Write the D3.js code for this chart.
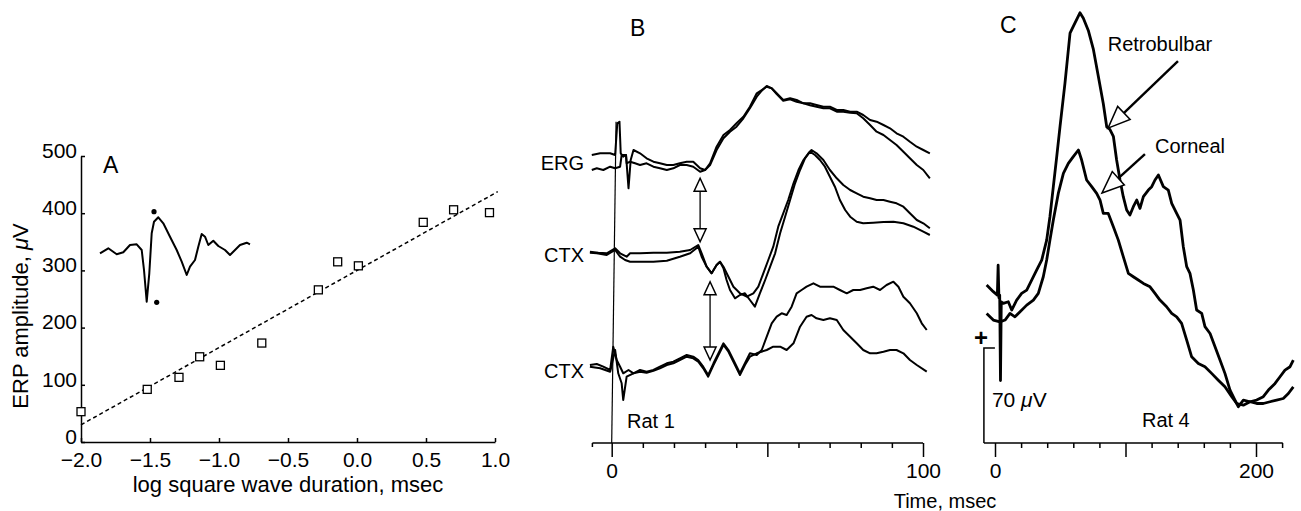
<!DOCTYPE html>
<html>
<head>
<meta charset="utf-8">
<script src="https://cdn.jsdelivr.net/npm/d3@7"></script>
<style>
body { margin: 0; background: #fff; }
svg { display: block; font-family: "Liberation Sans", Arial, Helvetica, sans-serif; }
</style>
</head>
<body>
<div id="chart"></div>
<script>
// ---------- panel A : ERP amplitude vs log square wave duration
var durations  = [-2.0, -1.52, -1.29, -1.14, -0.99, -0.69, -0.28, -0.14, 0.01, 0.48, 0.70, 0.96];
var amplitudes = [53, 92, 113, 149, 134, 173, 266, 315, 308, 384, 406, 401];
var fitIntercept = 300, fitSlope = 135;
var fitX = [-2.0, 1.02];
var xTicksA = [-2.0, -1.5, -1.0, -0.5, 0.0, 0.5, 1.0];
var yTicksA = [0, 100, 200, 300, 400, 500];

// inset ERP waveform (arbitrary time / amplitude units)
var insetWave = [[0,-1.3],[8.3,3.7],[16.7,-2.3],[23.3,-0.3],[30,7],[36.7,7.7],[41.7,2],[44,-18],[46.7,-49.7],
  [49.3,-21.3],[51.7,18.7],[54,30.3],[58.3,34.7],[63.3,28.7],[70,15.3],[76.7,2],[81.7,-9.7],[86.7,-23],
  [90,-14.7],[95,-8],[98.3,5.3],[101.7,18],[105,15.3],[108.3,7],[113.3,11.3],[118.3,6],[125,2],[130,-3],
  [135,2],[140,7],[146.7,9.3],[150,7.7]];
var insetDots = [[54, 40.3], [56.7, -50.3]];

// ---------- panel B : Rat 1 traces, time in msec, amplitude offset per row
var ergA = [[-6.4,10],[-3.7,11.7],[-0.5,11.7],[1.1,10],[1.8,41.7],[2.5,43.3],[2.9,11.7],[3.7,8.3],[4.6,10],
  [5.4,-23.3],[6.1,5],[7.0,15],[9.1,11.7],[11.2,6.7],[13.4,3.3],[15.5,1.7],[17.7,0],[19.8,0],[21.9,1.7],
  [24.1,3.3],[26.2,3.3],[28.4,-3.3],[30.0,-5],[31.6,1.7],[33.7,18.3],[35.9,30],[38.0,35],[40.1,41.7],
  [42.3,48.3],[44.4,58.3],[46.6,71.7],[48.2,75],[49.8,78.3],[51.4,76.7],[53.0,71.7],[55.1,65],[57.3,66.7],
  [59.4,65],[61.6,61.7],[63.7,61.7],[65.8,60],[68.0,58.3],[70.1,58.3],[72.3,55],[74.4,55],[76.6,53.3],
  [78.7,53.3],[80.8,50],[83.0,45],[85.1,43.3],[87.3,40],[89.4,36.7],[91.5,31.7],[93.7,28.3],[95.8,23.3],
  [98.0,18.3],[100.1,15],[102.2,11.7]];
var ergB = [[-6.4,-5],[-4.8,-3.3],[-2.7,-5],[-0.5,-1.7],[1.1,-3.3],[2.7,-1.7],[3.2,10],[4.6,10],[4.8,1.7],
  [5.9,3.3],[7.5,1.7],[9.1,0],[11.2,1.7],[13.4,-1.7],[15.5,-3.3],[17.7,-5],[19.8,-3.3],[21.9,0],[24.1,0],
  [26.2,-1.7],[28.4,-6.7],[30.0,-5],[31.6,0],[33.7,15],[35.9,26.7],[38.0,33.3],[40.1,38.3],[42.3,46.7],
  [44.4,56.7],[46.6,68.3],[48.2,74.3],[49.8,79],[51.4,76.7],[53.0,71],[55.1,64.3],[57.3,65.7],[59.4,63.3],
  [61.6,61.7],[63.7,59.7],[65.8,58.3],[68.0,56.7],[70.1,56.7],[72.3,53.3],[74.4,53.3],[76.6,52.3],
  [78.7,51.7],[80.8,46.7],[83.0,40],[85.1,33.3],[87.3,30],[89.4,25],[91.5,20],[93.7,13.3],[95.8,6.7],
  [98.0,0],[100.1,-5],[102.2,-13.3]];
var ctx1A = [[-7.0,-86.7],[-4.3,-87.7],[-1.6,-88.3],[1.1,-83.3],[2.7,-88.3],[4.8,-91.7],[5.9,-88.3],
  [9.1,-88.3],[13.4,-87.7],[17.7,-87.7],[21.9,-86.7],[25.2,-85],[27.8,-80],[28.9,-88.3],[30.5,-101.7],
  [32.1,-108.3],[33.7,-100],[34.8,-96.7],[35.9,-101.7],[37.5,-111.7],[39.1,-121.7],[41.2,-128.3],
  [43.4,-131.7],[45.5,-128.3],[47.1,-121.7],[48.7,-108.3],[50.3,-95],[51.9,-81.7],[53.5,-61.7],
  [55.1,-48.3],[56.7,-35],[58.4,-18.3],[60.0,-5],[61.6,5],[63.2,11.7],[64.2,15],[65.8,11.7],[68.0,5],
  [70.1,-5],[72.3,-13.3],[74.4,-20],[76.6,-25],[78.7,-28.3],[80.8,-31.7],[83.0,-33.3],[85.1,-35],
  [87.3,-35],[89.4,-36.7],[91.5,-38.3],[93.7,-41.7],[95.8,-48.3],[98.0,-55],[100.1,-58.3],[102.2,-63.3]];
var ctx1B = [[-7.0,-87.7],[-4.8,-88.3],[-1.6,-90],[1.1,-85],[2.7,-91.7],[4.3,-95],[5.9,-96.7],[9.1,-96.7],
  [13.4,-96.7],[17.7,-95.7],[21.9,-91.7],[25.2,-88.3],[27.8,-81.7],[28.9,-91.7],[30.5,-101.7],[32.1,-108.3],
  [33.7,-100],[34.8,-96.7],[35.9,-103.3],[36.9,-115],[38.0,-125],[39.6,-133.3],[41.2,-130],[42.8,-128.3],
  [44.4,-135],[46.0,-141.7],[47.6,-128.3],[49.3,-115],[50.9,-101.7],[52.5,-88.3],[54.1,-68.3],[55.7,-51.7],
  [57.3,-35],[58.9,-18.3],[60.5,-5],[62.1,6.7],[63.7,13.3],[65.3,10],[66.9,5],[68.5,-1.7],[70.1,-11.7],
  [71.7,-21.7],[73.3,-35],[75.0,-45],[76.6,-51.7],[78.7,-56.7],[80.8,-58.3],[84.0,-57.7],[87.3,-57],
  [90.5,-56.7],[93.7,-58.3],[96.9,-61.7],[100.1,-66.7],[102.2,-70]];
var ctx2A = [[-7.0,-200],[-4.8,-199],[-2.7,-201.7],[-0.5,-205],[0.5,-181.7],[1.6,-195],[2.7,-201.7],
  [3.7,-208.3],[5.4,-205],[7.0,-208.3],[9.1,-205],[11.2,-206.7],[13.4,-205],[15.5,-201.7],[17.7,-198.3],
  [19.8,-196.7],[21.9,-193.3],[24.1,-190],[26.2,-191.7],[27.8,-195],[29.4,-201.7],[31.0,-210],[32.7,-198.3],
  [34.3,-188.3],[35.9,-178.3],[37.5,-185],[39.1,-195],[41.2,-208.3],[42.8,-198.3],[44.4,-188.3],[46.6,-190],
  [48.2,-185],[49.8,-171.7],[51.4,-158.3],[53.0,-151.7],[54.6,-148.3],[56.2,-150],[57.8,-141.7],
  [59.4,-128.3],[61.0,-125],[62.6,-121.7],[64.8,-118.3],[66.9,-121.7],[69.1,-121.7],[71.2,-121.7],
  [73.3,-125],[75.5,-128.3],[77.6,-125],[79.8,-125],[81.9,-123.3],[84.0,-121.7],[86.2,-125],[88.3,-120],
  [90.5,-116.7],[92.1,-121.7],[93.7,-131.7],[95.8,-138.3],[98.0,-148.3],[99.6,-158.3],[101.2,-165]];
var ctx2B = [[-7.0,-201.7],[-3.7,-203.3],[-0.5,-206.7],[1.1,-185],[2.1,-208.3],[3.2,-218.3],[3.7,-235],
  [4.8,-211.7],[7.0,-208.3],[9.1,-206.7],[11.2,-207.7],[13.4,-205.7],[15.5,-203.3],[17.7,-200],
  [19.8,-198.3],[21.9,-195],[24.1,-191.7],[26.2,-193.3],[27.8,-196.7],[29.4,-203.3],[31.0,-211.7],
  [32.7,-200],[34.3,-190],[35.9,-180],[37.5,-186.7],[39.1,-196.7],[41.2,-210],[42.8,-200],[44.4,-191.7],
  [46.6,-188.3],[49.8,-185],[51.9,-181.7],[54.1,-181.7],[56.2,-185],[58.4,-178.3],[60.5,-161.7],
  [62.6,-151.7],[64.2,-150],[65.8,-153.3],[68.0,-155],[70.1,-153.3],[72.3,-155],[74.4,-165],[76.6,-171.7],
  [78.7,-178.3],[80.8,-185],[83.0,-188.3],[85.1,-188.3],[87.3,-186.7],[89.4,-185],[91.5,-185],[93.7,-188.3],
  [95.8,-195],[98.0,-200],[101.2,-206.7]];
var rowLabelsB = ["ERG", "CTX", "CTX"];
var rowLevelsB = [2, -90, -206];
var arrowsB = [[28.4, -13.3, -76.7], [31.6, -116.7, -195]];   // [time, top tip, bottom tip]
var majorTicksB = [0, 50, 100];
var minorTicksB = [10, 20, 30, 40, 60, 70, 80, 90];
var labelTicksB = [0, 100];

// ---------- panel C : Rat 4, retrobulbar vs corneal, time in msec, amplitude in uV
var retro = [[-6.4,7.4],[-1.3,2.5],[1.8,0],[2.4,22],[3.0,-2],[3.6,0],[4.2,-63],[4.8,-5],[6.4,-6.1],
  [10.2,-4.9],[12.8,-11],[16.6,-3.7],[20.4,1.2],[24.3,3.7],[28.1,11],[31.9,18.4],[35.8,25.8],[39.6,40.5],
  [42.1,57.7],[44.7,79.9],[47.3,102],[49.8,124],[53.6,156],[57.5,193],[60.0,198],[65.1,208],[67.7,204],
  [71.5,195],[75.4,181],[79.2,161],[83.0,141],[85.6,124],[88.1,122],[90.7,117],[93.2,99.5],[95.8,84.8],
  [98.3,72.5],[100.9,62.7],[103.4,59],[106.0,65.1],[108.6,70],[111.1,63.9],[113.7,72.5],[117.5,77.4],
  [120.1,79.9],[122.6,84.8],[125.2,88.5],[129.0,79.9],[132.8,77.4],[135.4,67.6],[139.2,60.2],[141.8,55.3],
  [144.3,35.6],[146.9,20.9],[149.4,16],[152.0,3.7],[154.5,-11],[158.4,-13.5],[160.9,-23.3],[164.8,-28.3],
  [168.6,-38.1],[172.4,-47.9],[176.2,-57.7],[180.1,-70],[183.9,-77.4],[186.5,-82.3],[190.3,-77.4],
  [195.4,-78.6],[200.5,-77.4],[205.6,-74.9],[209.5,-70],[214.6,-65.1],[218.4,-60.2],[222.2,-55.3],
  [226.1,-52.8],[228.6,-47.9]];
var corneal = [[-6.4,-13.5],[-1.3,-18.4],[3.8,-19.7],[7.7,-18.4],[11.5,-13.5],[15.3,-16],[19.2,-12.3],
  [24.3,-7.4],[29.4,-3.7],[33.2,1.2],[37.0,13.5],[39.6,25.8],[42.1,40.5],[44.7,55.3],[48.5,74.9],
  [52.4,89.7],[56.2,97],[60.0,102],[63.9,106.9],[66.4,99.5],[70.2,84.8],[74.1,79.9],[77.9,74.9],[80.5,70],
  [83.0,60.2],[86.8,60.2],[90.7,50.4],[94.5,40.5],[98.3,28.3],[102.2,16],[106.0,13.5],[109.8,11.1],
  [113.7,8.6],[118.8,6.1],[122.6,1.2],[126.4,-3.7],[131.5,-8.6],[135.4,-13.5],[139.2,-16],[143.0,-20.9],
  [146.9,-33.2],[150.7,-45.5],[155.8,-50.4],[160.9,-52.8],[166.0,-57.7],[171.1,-62.7],[176.2,-67.6],
  [181.4,-74.9],[185.2,-79.9],[190.3,-81.1],[195.4,-78.6],[200.5,-79.9],[205.6,-79.9],[210.7,-78.6],
  [215.8,-77.4],[220.9,-76.2],[224.8,-72.5],[228.6,-67.6]];
var arrowsC = [[140.2, 172.4, 86.6, 123], [114.9, 103.9, 82.0, 75.2]];   // [tail t, tail uV, tip t, tip uV]
var arrowLabelsC = ["Retrobulbar", "Corneal"];
var arrowLabelPosC = [[126.4, 179.8], [149.4, 104.6]];
var scaleBarUV = 70;
var majorTicksC = [0, 100, 200];
var minorTicksC = [20, 40, 60, 80, 120, 140, 160, 180, 220];
var labelTicksC = [0, 200];

// ---------- drawing
var W = 1301, H = 511;
var svg = d3.select("#chart").append("svg").attr("width", W).attr("height", H);
svg.append("rect").attr("width", W).attr("height", H).attr("fill", "#fff");

function styleAxis(g, fs) {
  g.attr("font-size", fs).attr("font-family", null);
  g.selectAll("path, line").attr("stroke", "#000").attr("stroke-width", 1.5);
  g.selectAll("text").attr("fill", "#000");
}

function openHead(g, tipX, tipY, fromX, fromY, len, wid) {
  var ang = Math.atan2(tipY - fromY, tipX - fromX) * 180 / Math.PI;
  g.append("path")
    .attr("d", "M0,0 L" + (-len) + "," + (-wid / 2) + " L" + (-len) + "," + (wid / 2) + " Z")
    .attr("transform", "translate(" + tipX + "," + tipY + ") rotate(" + ang + ")")
    .attr("fill", "#fff").attr("stroke", "#000").attr("stroke-width", 1.5)
    .attr("stroke-linejoin", "miter");
}

// ===== A
var xA = d3.scaleLinear().domain([-2, 1]).range([81, 495]);
var yA = d3.scaleLinear().domain([0, 500]).range([442, 156]);
var gA = svg.append("g");

gA.append("g").attr("transform", "translate(0,442)")
  .call(d3.axisBottom(xA).tickValues(xTicksA).tickSize(-4).tickSizeOuter(0).tickPadding(10)
    .tickFormat(d3.format(".1f")))
  .call(styleAxis, 21);
gA.append("g").attr("transform", "translate(81,0)")
  .call(d3.axisLeft(yA).tickValues(yTicksA).tickSize(-4).tickSizeOuter(0).tickPadding(4))
  .call(styleAxis, 21)
  .selectAll("text").attr("dy", "0.06em");

gA.append("line")
  .attr("x1", xA(fitX[0])).attr("y1", yA(fitIntercept + fitSlope * fitX[0]))
  .attr("x2", xA(fitX[1])).attr("y2", yA(fitIntercept + fitSlope * fitX[1]))
  .attr("stroke", "#000").attr("stroke-width", 1.5).attr("stroke-dasharray", "4,3");

gA.selectAll(".sq").data(durations).enter().append("rect")
  .attr("class", "sq")
  .attr("x", function(d) { return xA(d) - 4; })
  .attr("y", function(d, i) { return yA(amplitudes[i]) - 4; })
  .attr("width", 8).attr("height", 8)
  .attr("fill", "#fff").attr("stroke", "#000").attr("stroke-width", 1.3);

var xIn = d3.scaleLinear().domain([0, 150]).range([100, 250]);
var yIn = d3.scaleLinear().domain([-60, 60]).range([312, 192]);
gA.append("path").datum(insetWave)
  .attr("d", d3.line().x(function(d) { return xIn(d[0]); }).y(function(d) { return yIn(d[1]); }))
  .attr("fill", "none").attr("stroke", "#000").attr("stroke-width", 2).attr("stroke-linejoin", "round");
gA.selectAll(".dot").data(insetDots).enter().append("circle")
  .attr("cx", function(d) { return xIn(d[0]); }).attr("cy", function(d) { return yIn(d[1]); })
  .attr("r", 2.6).attr("fill", "#000");

gA.append("text").attr("x", 103).attr("y", 173).attr("font-size", 23).text("A");
gA.append("text").attr("x", 288).attr("y", 492).attr("font-size", 22).attr("text-anchor", "middle")
  .text("log square wave duration, msec");
var yl = gA.append("text").attr("transform", "translate(28,316) rotate(-90)")
  .attr("font-size", 22).attr("text-anchor", "middle");
yl.append("tspan").text("ERP amplitude, ");
yl.append("tspan").attr("font-style", "italic").text("\u03bc");
yl.append("tspan").text("V");

// ===== B
var xB = d3.scaleLinear().domain([0, 100]).range([611.7, 923]);
var yB = d3.scaleLinear().domain([-278, 60]).range([443, 105]);
var gB = svg.append("g");
var lineB = d3.line().x(function(d) { return xB(d[0]); }).y(function(d) { return yB(d[1]); });

gB.append("line").attr("x1", xB(-6.2)).attr("x2", xB(100)).attr("y1", 443).attr("y2", 443)
  .attr("stroke", "#000").attr("stroke-width", 1.5);
gB.append("line").attr("x1", xB(-6.2)).attr("x2", xB(-6.2)).attr("y1", 443).attr("y2", 447)
  .attr("stroke", "#000").attr("stroke-width", 1.5);
gB.append("g").attr("transform", "translate(0,443)")
  .call(d3.axisBottom(xB).tickValues(minorTicksB).tickSize(5).tickSizeOuter(0).tickFormat(""))
  .call(styleAxis, 21).select(".domain").remove();
gB.append("g").attr("transform", "translate(0,443)")
  .call(d3.axisBottom(xB).tickValues(majorTicksB).tickSize(14).tickSizeOuter(0).tickPadding(6)
    .tickFormat(function(d) { return labelTicksB.indexOf(d) >= 0 ? d : ""; }))
  .call(styleAxis, 21).select(".domain").remove();

// stimulus marker
gB.append("line").attr("x1", xB(1.4)).attr("y1", yB(43.3)).attr("x2", xB(0)).attr("y2", 443)
  .attr("stroke", "#000").attr("stroke-width", 1.2);

[ergA, ergB, ctx1A, ctx1B, ctx2A, ctx2B].forEach(function(tr) {
  gB.append("path").datum(tr).attr("d", lineB)
    .attr("fill", "none").attr("stroke", "#000").attr("stroke-width", 2).attr("stroke-linejoin", "round");
});

arrowsB.forEach(function(a) {
  var x = xB(a[0]), y1 = yB(a[1]), y2 = yB(a[2]);
  gB.append("line").attr("x1", x).attr("x2", x).attr("y1", y1 + 13).attr("y2", y2 - 13)
    .attr("stroke", "#000").attr("stroke-width", 1.3);
  openHead(gB, x, y1, x, y1 + 20, 13, 12);
  openHead(gB, x, y2, x, y2 - 20, 13, 12);
});

gB.selectAll(".rowlab").data(rowLabelsB).enter().append("text")
  .attr("x", 584).attr("y", function(d, i) { return yB(rowLevelsB[i]); }).attr("dy", "0.36em")
  .attr("text-anchor", "end").attr("font-size", 20).text(function(d) { return d; });
gB.append("text").attr("x", xB(4.9)).attr("y", yB(-263)).attr("font-size", 20).text("Rat 1");
gB.append("text").attr("x", 630).attr("y", 36).attr("font-size", 23).text("B");

// ===== C
var xC = d3.scaleLinear().domain([0, 200]).range([995, 1256]);
var yC = d3.scaleLinear().domain([-109, 210]).range([443, 10.1]);
var gC = svg.append("g");
var lineC = d3.line().x(function(d) { return xC(d[0]); }).y(function(d) { return yC(d[1]); });

gC.append("line").attr("x1", xC(-8.5)).attr("x2", xC(220.5)).attr("y1", 443).attr("y2", 443)
  .attr("stroke", "#000").attr("stroke-width", 1.5);
gC.append("g").attr("transform", "translate(0,443)")
  .call(d3.axisBottom(xC).tickValues(minorTicksC).tickSize(5).tickSizeOuter(0).tickFormat(""))
  .call(styleAxis, 21).select(".domain").remove();
gC.append("g").attr("transform", "translate(0,443)")
  .call(d3.axisBottom(xC).tickValues(majorTicksC).tickSize(14).tickSizeOuter(0).tickPadding(6)
    .tickFormat(function(d) { return labelTicksC.indexOf(d) >= 0 ? d : ""; }))
  .call(styleAxis, 21).select(".domain").remove();

// 70 uV calibration bar
var barX = xC(-8.5), barTop = yC(yC.domain()[0] + scaleBarUV);
gC.append("path").attr("d", "M" + (barX + 11) + "," + barTop + " H" + barX + " V443")
  .attr("fill", "none").attr("stroke", "#000").attr("stroke-width", 1.5);
gC.append("text").attr("x", barX - 3).attr("y", barTop - 2).attr("font-size", 24)
  .attr("font-weight", "bold").attr("text-anchor", "middle").text("+");
var cal = gC.append("text").attr("x", barX + 8).attr("y", 407).attr("font-size", 21);
cal.append("tspan").text("70 ");
cal.append("tspan").attr("font-style", "italic").text("\u03bc");
cal.append("tspan").text("V");

[corneal, retro].forEach(function(tr) {
  gC.append("path").datum(tr).attr("d", lineC)
    .attr("fill", "none").attr("stroke", "#000").attr("stroke-width", 2.8).attr("stroke-linejoin", "round");
});

arrowsC.forEach(function(a, i) {
  var x0 = xC(a[0]), y0 = yC(a[1]), x1 = xC(a[2]), y1 = yC(a[3]);
  var len = Math.hypot(x1 - x0, y1 - y0), ux = (x1 - x0) / len, uy = (y1 - y0) / len;
  gC.append("line").attr("x1", x0).attr("y1", y0).attr("x2", x1 - ux * 20).attr("y2", y1 - uy * 20)
    .attr("stroke", "#000").attr("stroke-width", 2.4);
  openHead(gC, x1, y1, x0, y0, 22, 18);
  gC.append("text").attr("x", xC(arrowLabelPosC[i][0])).attr("y", yC(arrowLabelPosC[i][1]))
    .attr("text-anchor", "middle").attr("font-size", 20).text(arrowLabelsC[i]);
});

gC.append("text").attr("x", xC(112.6)).attr("y", 427).attr("font-size", 20).text("Rat 4");
gC.append("text").attr("x", 1000).attr("y", 33).attr("font-size", 23).text("C");

svg.append("text").attr("x", 945).attr("y", 508).attr("text-anchor", "middle").attr("font-size", 20)
  .text("Time, msec");
</script>
</body>
</html>
